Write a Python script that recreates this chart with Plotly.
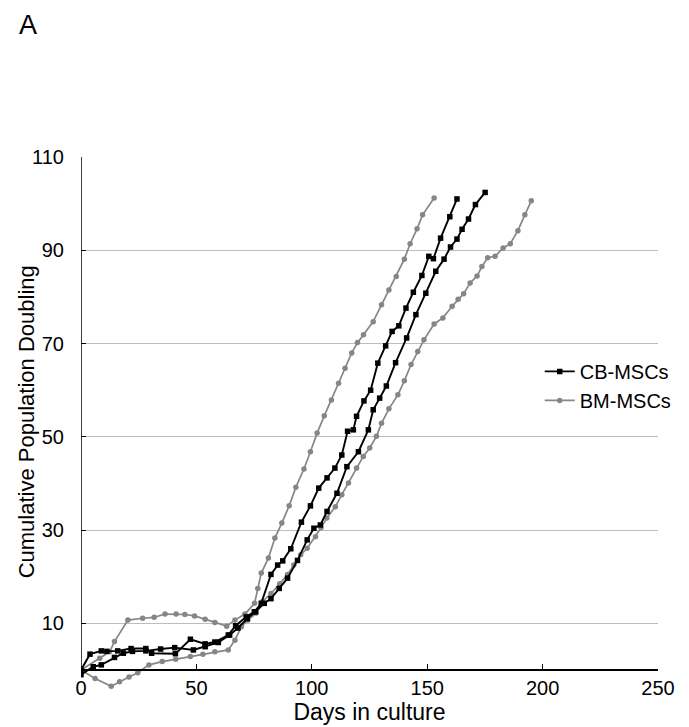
import plotly.graph_objects as go

# Dias em cultura / duplicações acumuladas
cb1_days = [0, 3.9, 8.8, 11.2, 15.9, 21.7, 28.1, 30.6, 40.9, 47.4, 53.8, 58, 63.8, 67, 71.6, 75.1, 78.1,
            82.3, 85.2, 87.4, 90.9, 95.5, 99.4, 103, 106.6, 110, 113, 115.5, 118, 119.4, 122.6, 125.5,
            128.6, 132, 134.8, 137.7, 140.8, 144, 147.7, 150.7, 152.7, 155.8, 159.8, 162.9]
cb1_pd = [0, 3.4, 4.1, 4.0, 4.1, 4.6, 4.6, 3.6, 3.5, 6.6, 5.6, 6.0, 7.5, 9.5, 11.4, 12.5, 14.3,
          20.5, 22.5, 23.4, 26.0, 31.7, 35.2, 39.0, 41.2, 43.3, 46.1, 51.2, 51.5, 54.4, 57.7, 60.0,
          65.8, 69.5, 72.6, 73.8, 77.6, 81.0, 84.6, 88.7, 88.2, 92.6, 97.2, 101.0]

cb2_days = [0, 5.3, 8.8, 14.5, 18.3, 22.3, 28.1, 34.5, 40.6, 48.7, 53.8, 59.5, 64.4, 68, 72, 75.6,
            79.4, 82.3, 85.9, 89.5, 93.8, 98, 100.9, 103.7, 106.6, 110.9, 115.2, 120.2, 124.5, 126.6,
            129.4, 132.3, 136.3, 141.1, 145.1, 149.4, 153.7, 157.3, 160.1, 162.9, 165.1, 167.9, 170.9, 175.1]
cb2_pd = [-1.0, 0.7, 1.1, 2.7, 3.6, 4.0, 4.1, 4.5, 4.8, 4.3, 5.0, 5.9, 7.5, 9.0, 11.0, 12.5,
          14.3, 15.3, 17.5, 19.7, 23.5, 27.9, 30.4, 31.1, 34.0, 37.9, 43.6, 46.8, 51.5, 55.8,
          58.3, 60.9, 65.9, 71.2, 76.2, 80.8, 85.5, 88.1, 90.7, 92.4, 94.5, 96.7, 99.8, 102.4]

bm1_days = [0, 8.1, 12.4, 14.5, 20.3, 26.7, 31.7, 36.4, 41.2, 45, 49.2, 53.8, 58, 63.1, 66.7, 71,
            75.2, 76.6, 78.1, 81.2, 84, 87, 90.2, 93.1, 96.6, 99.4, 102.3, 105.4, 108.5, 111.6, 114.4,
            117.3, 119.8, 122.4, 126.6, 130.2, 133.4, 136.6, 140.1, 142.6, 145.6, 148, 153]
bm1_pd = [0, 2.5, 3.9, 6.1, 10.7, 11.1, 11.3, 12.0, 12.0, 11.9, 11.6, 10.9, 10.2, 9.4, 10.7, 12.0,
          14.3, 17.5, 20.8, 24.0, 28.3, 31.5, 35.2, 39.2, 43.1, 46.8, 50.8, 54.5, 57.9, 61.5, 64.7,
          68.0, 70.2, 71.9, 74.7, 78.3, 81.5, 84.4, 88.1, 91.4, 94.6, 97.6, 101.2]

bm2_days = [0, 6.1, 13.1, 16.7, 20.8, 24.6, 29.4, 35.2, 41, 47.4, 52.8, 58, 63.8, 66.7, 69.5, 72.3,
            75.9, 78.7, 82.3, 86.1, 89.5, 92.2, 95.2, 98, 101.6, 104, 106.5, 110.2, 113, 115.9, 119.4,
            122.3, 125.1, 128, 130.2, 133.4, 137.3, 140.1, 143, 145.9, 148.6, 153, 156.8, 160.8, 163.4,
            165.8, 168.6, 171.6, 173.7, 176.2, 179.4, 182.9, 186, 189.3, 192.3, 195.1]
bm2_pd = [0, -1.8, -3.5, -2.5, -1.5, -0.6, 1.1, 1.8, 2.3, 2.9, 3.4, 3.9, 4.3, 6.4, 9.3, 10.7,
          12.2, 14.7, 16.4, 18.5, 20.5, 22.5, 24.7, 26.1, 28.6, 30.5, 32.6, 35.0, 37.6, 40.1, 43.3,
          45.8, 47.6, 50.1, 52.9, 56.0, 59.0, 62.0, 65.5, 68.3, 70.8, 74.2, 75.5, 78.0, 79.5,
          80.7, 83.0, 84.5, 86.5, 88.4, 88.7, 90.5, 91.4, 94.2, 97.6, 100.6]

x_ticks = [0, 50, 100, 150, 200, 250]
y_ticks = [10, 30, 50, 70, 90, 110]

FONT = "Liberation Sans, Arial, sans-serif"
GRAY = "#868686"

fig = go.Figure()

# linhas cinza (BM) primeiro, pretas (CB) por cima
fig.add_trace(go.Scatter(x=bm1_days, y=bm1_pd, mode="lines+markers", name="BM-MSCs",
                         line=dict(color=GRAY, width=1.7),
                         marker=dict(symbol="circle", size=5.5, color=GRAY),
                         showlegend=False, legendrank=2))
fig.add_trace(go.Scatter(x=bm2_days, y=bm2_pd, mode="lines+markers", name="BM-MSCs",
                         line=dict(color=GRAY, width=1.7),
                         marker=dict(symbol="circle", size=5.5, color=GRAY),
                         showlegend=True, legendrank=2))
fig.add_trace(go.Scatter(x=cb1_days, y=cb1_pd, mode="lines+markers", name="CB-MSCs",
                         line=dict(color="black", width=1.9),
                         marker=dict(symbol="square", size=5.5, color="black"),
                         showlegend=True, legendrank=1))
fig.add_trace(go.Scatter(x=cb2_days, y=cb2_pd, mode="lines+markers", name="CB-MSCs",
                         line=dict(color="black", width=1.9),
                         marker=dict(symbol="square", size=5.5, color="black"),
                         showlegend=False, legendrank=1))

# a página tem margem de 8px no body, então a figura é um pouco menor
y_lo = -4.5
fig.update_layout(
    width=681, height=719,
    margin=dict(l=73, r=24, t=149, b=36),
    paper_bgcolor="white", plot_bgcolor="white",
    font=dict(family=FONT, size=20, color="black"),
    showlegend=True,
    legend=dict(x=0.795, y=0.635, xanchor="left", yanchor="top",
                bgcolor="rgba(0,0,0,0)", font=dict(size=20), tracegroupgap=0),
    xaxis=dict(range=[0, 250], tickvals=x_ticks, ticks="inside", ticklen=5,
               tickcolor="black", showline=True, linecolor="black", linewidth=1.5,
               showgrid=False, zeroline=False, anchor="free", automargin=False,
               position=(0 - y_lo) / (110 - y_lo), tickfont=dict(size=20),
               title=dict(text="Days in culture", font=dict(size=23), standoff=0)),
    yaxis=dict(range=[y_lo, 110], tickvals=y_ticks, ticks="inside", ticklen=5,
               tickcolor="black", showline=False, showgrid=True, gridcolor="#bdbdbd",
               gridwidth=1.2, zeroline=False, automargin=False, ticklabelstandoff=16,
               tickfont=dict(size=20)),
    shapes=[dict(type="line", xref="x", yref="y", x0=0, x1=0, y0=0, y1=110,
                 line=dict(color="black", width=1.5))],
    annotations=[
        dict(text="A", xref="paper", yref="paper", x=-0.092, y=(534 + 149) / 534,
             xanchor="center", yanchor="top", showarrow=False,
             font=dict(size=27, color="black")),
        dict(text="Cumulative Population Doubling", xref="paper", yref="paper",
             x=-0.0945, y=0.504, textangle=-90, xanchor="center", yanchor="middle",
             showarrow=False, font=dict(size=22, color="black")),
    ],
)

fig.write_html("out.html")
